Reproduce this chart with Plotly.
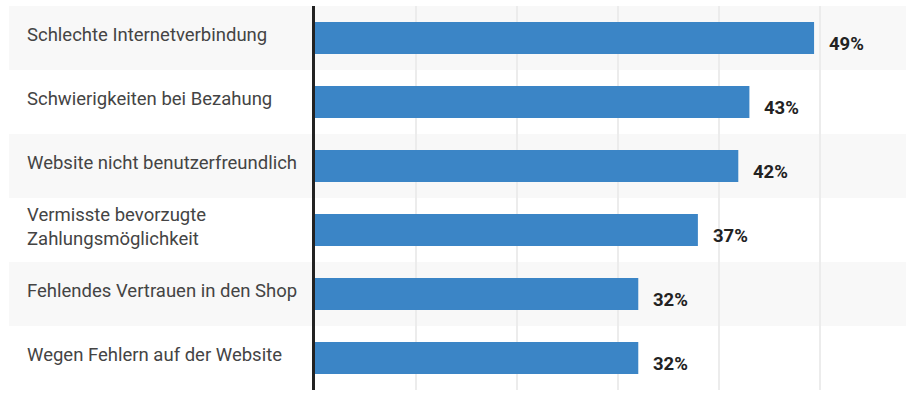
import plotly.graph_objects as go

categories = [
    "Schlechte Internetverbindung",
    "Schwierigkeiten bei Bezahung",
    "Website nicht benutzerfreundlich",
    "Vermisste bevorzugte<br>Zahlungsmöglichkeit",
    "Fehlendes Vertrauen in den Shop",
    "Wegen Fehlern auf der Website",
]
values = [49.4, 43.0, 41.9, 37.9, 32.0, 32.0]
value_labels = ["49%", "43%", "42%", "37%", "32%", "32%"]
grid_ticks = [10, 20, 30, 40, 50]

W, H = 906, 408
L, R, T, B = 315, 0, 6, 18
plot_w = W - L - R
xmax = 58.5
label_x_px = 25
band_x_px = 9

fig = go.Figure()
fig.add_trace(go.Bar(
    x=values, y=categories, orientation="h",
    marker=dict(color="#3b85c6", line=dict(width=0)),
    width=0.5, hoverinfo="skip",
))

shapes = []
for i, c in enumerate(categories):
    if i % 2 == 0:
        shapes.append(dict(
            type="rect", layer="below", xref="paper", yref="y",
            x0=(band_x_px - L) / plot_w, x1=1, y0=i - 0.5, y1=i + 0.5,
            fillcolor="#f8f8f8", line=dict(width=0),
        ))

annotations = []
for i, (c, v, lab) in enumerate(zip(categories, values, value_labels)):
    annotations.append(dict(
        xref="paper", yref="y", x=(label_x_px - L) / plot_w, y=i,
        text=c, showarrow=False, xanchor="left", yanchor="middle", align="left",
        yshift=3,
        font=dict(family="Roboto", size=18.5, color="#444444"),
    ))
    annotations.append(dict(
        xref="x", yref="y", x=v, y=i, text="<b>" + lab + "</b>",
        showarrow=False, xanchor="left", yanchor="middle", xshift=13, yshift=-6,
        font=dict(family="Roboto", size=18.5, color="#222222"),
    ))

fig.update_layout(
    width=W, height=H,
    margin=dict(l=L, r=R, t=T, b=B),
    paper_bgcolor="white", plot_bgcolor="rgba(0,0,0,0)",
    showlegend=False,
    shapes=shapes, annotations=annotations,
    xaxis=dict(range=[0, xmax], tickvals=grid_ticks, showticklabels=False,
               showgrid=True, gridcolor="#ececec", gridwidth=2,
               zeroline=False, showline=False, ticks=""),
    yaxis=dict(type="category", categoryorder="array", categoryarray=categories,
               showticklabels=False, showgrid=False, zeroline=False,
               showline=True, linecolor="#222222", linewidth=2.5, ticks=""),
)
fig.update_yaxes(range=[len(categories) - 0.5, -0.5], autorange=False)

fig.write_html("out.html")
